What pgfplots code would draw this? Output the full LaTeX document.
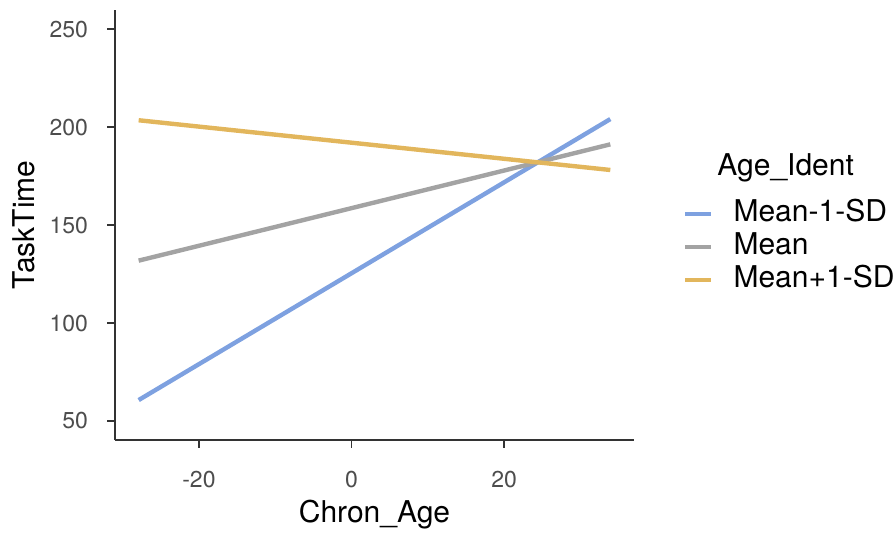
\documentclass[border=0pt]{standalone}
\usepackage{pgfplots}
\pgfplotsset{compat=1.18}
\usepackage{fontspec}
\setmainfont{TeX Gyre Heros}

\definecolor{lowcol}{HTML}{7EA1E0}
\definecolor{midcol}{HTML}{A3A3A3}
\definecolor{highcol}{HTML}{E2B65C}
\definecolor{tickgray}{HTML}{4D4D4D}
\definecolor{axisgray}{HTML}{333333}

\begin{document}
\begin{tikzpicture}
\path[use as bounding box] (-57.5pt,-49pt) rectangle (390.5pt,220pt);
\begin{axis}[
  at={(0,0)}, anchor=south west,
  scale only axis,
  width=259.5pt, height=215pt,
  xmin=-31, xmax=37,
  ymin=40.3, ymax=259.9,
  xtick={-20,0,20},
  ytick={50,100,150,200,250},
  axis lines*=left,
  axis line style={axisgray, line width=0.9pt},
  tick style={axisgray, line width=0.9pt},
  tick align=outside,
  major tick length=3.8pt,
  /pgf/number format/assume math mode=true,
  ticklabel style={font=\fontsize{11.5}{13}\selectfont, text=tickgray, inner sep=0pt},
  yticklabel style={xshift=-9.5pt},
  xticklabel style={yshift=-11.5pt},
  xlabel={Chron\_Age},
  ylabel={TaskTime},
  label style={font=\fontsize{15}{17}\selectfont, inner sep=0pt},
  xlabel style={at={(axis description cs:0.5,0)}, anchor=north, yshift=-30pt},
  ylabel style={at={(axis description cs:-0.1985,0.5)}, anchor=north},
  clip=false,
  legend cell align=left,
  legend style={
    at={(axis description cs:1.094,0.449)}, anchor=west,
    draw=none, fill=none, inner sep=0pt,
    font=\fontsize{15}{16.5}\selectfont,
    nodes={inner sep=0pt, text height=11pt, text depth=3.5pt},
    row sep=2pt, column sep=10pt,
  },
  legend image code/.code={\draw[#1] (0pt,0pt) -- (13pt,0pt);},
]
% Simple slopes of TaskTime on Chron_Age at three levels of Age_Ident
\addplot[lowcol, line width=2.2pt] coordinates {(-27.9,60.7) (33.9,204.2)};
\addlegendentry{Mean-1-SD}
\addplot[midcol, line width=2.2pt] coordinates {(-27.9,131.9) (33.9,191.3)};
\addlegendentry{Mean}
\addplot[highcol, line width=2.2pt] coordinates {(-27.9,203.6) (33.9,178.2)};
\addlegendentry{Mean+1-SD}
\node[anchor=west, inner sep=0pt, font=\fontsize{15}{17}\selectfont]
  at (axis description cs:1.160,0.633) {Age\_Ident};
\end{axis}
\end{tikzpicture}
\end{document}
